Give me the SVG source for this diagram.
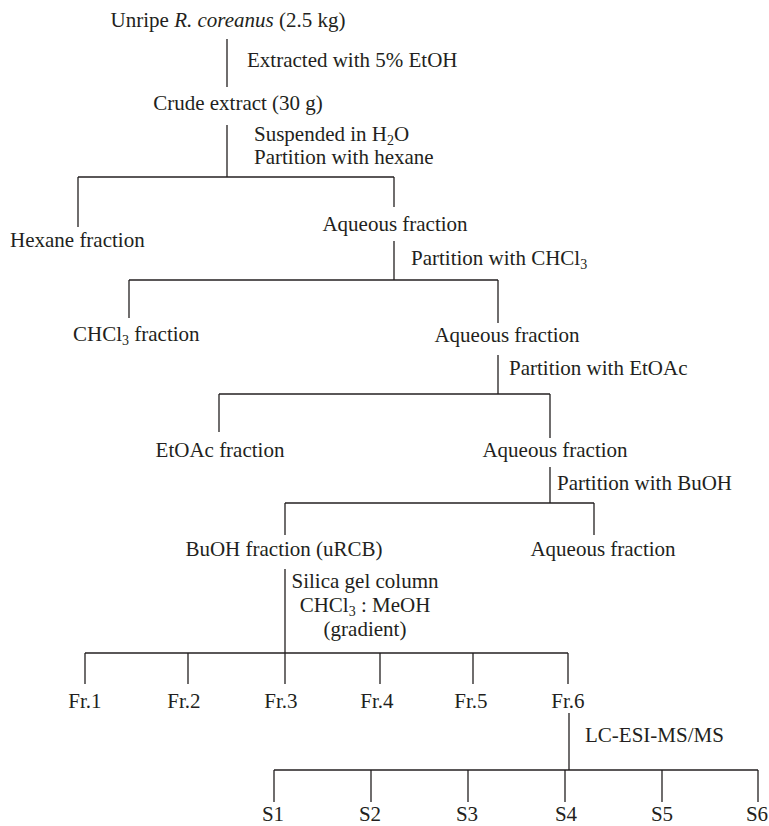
<svg xmlns="http://www.w3.org/2000/svg" width="769" height="826" viewBox="0 0 769 826">
<style>
text{font-family:"Liberation Serif","Times New Roman",serif;font-size:21px;fill:#231f20}
.m{text-anchor:middle}
.sub{font-size:14px}
.it{font-style:italic}
#connectors line{stroke:#231f20;stroke-width:1.3;fill:none}
</style>
<rect width="769" height="826" fill="#ffffff"/>
<g id="connectors">
<line x1="227" y1="39" x2="227" y2="87"/>
<line x1="227" y1="125" x2="227" y2="177"/>
<line x1="78" y1="177" x2="394" y2="177"/>
<line x1="78" y1="177" x2="78" y2="227"/>
<line x1="394" y1="177" x2="394" y2="207"/>
<line x1="394" y1="241" x2="394" y2="280"/>
<line x1="129" y1="280" x2="498" y2="280"/>
<line x1="129" y1="280" x2="129" y2="318"/>
<line x1="498" y1="280" x2="498" y2="323"/>
<line x1="498" y1="355" x2="498" y2="394"/>
<line x1="219" y1="394" x2="550" y2="394"/>
<line x1="219" y1="394" x2="219" y2="432"/>
<line x1="550" y1="394" x2="550" y2="438"/>
<line x1="550" y1="467" x2="550" y2="503"/>
<line x1="285" y1="503" x2="594" y2="503"/>
<line x1="285" y1="503" x2="285" y2="535"/>
<line x1="594" y1="503" x2="594" y2="535"/>
<line x1="285" y1="569" x2="285" y2="684"/>
<line x1="85" y1="653" x2="568" y2="653"/>
<line x1="85" y1="653" x2="85" y2="684"/>
<line x1="188" y1="653" x2="188" y2="684"/>
<line x1="380" y1="653" x2="380" y2="684"/>
<line x1="473" y1="653" x2="473" y2="684"/>
<line x1="568" y1="653" x2="568" y2="684"/>
<line x1="569" y1="713" x2="569" y2="770"/>
<line x1="274" y1="770" x2="758" y2="770"/>
<line x1="274" y1="770" x2="274" y2="802"/>
<line x1="371" y1="770" x2="371" y2="802"/>
<line x1="468" y1="770" x2="468" y2="802"/>
<line x1="565" y1="770" x2="565" y2="802"/>
<line x1="662" y1="770" x2="662" y2="802"/>
<line x1="758" y1="770" x2="758" y2="802"/>
</g>
<g id="labels">
<text x="247" y="67">Extracted with 5% EtOH</text>
<text x="254" y="141">Suspended in H<tspan class="sub" dy="4">2</tspan><tspan dy="-4">O</tspan></text>
<text x="254" y="164">Partition with hexane</text>
<text x="411" y="265">Partition with CHCl<tspan class="sub" dy="4">3</tspan></text>
<text x="509" y="375">Partition with EtOAc</text>
<text x="557" y="490">Partition with BuOH</text>
<text class="m" x="365" y="588">Silica gel column</text>
<text class="m" x="365" y="612">CHCl<tspan class="sub" dy="4">3</tspan><tspan dy="-4"> : MeOH</tspan></text>
<text class="m" x="365" y="636">(gradient)</text>
<text x="585" y="742">LC-ESI-MS/MS</text>
</g>
<g id="n-start"><text class="m" x="228" y="27">Unripe <tspan class="it">R. coreanus</tspan> (2.5 kg)</text></g>
<g id="n-crude"><text class="m" x="238" y="110">Crude extract (30 g)</text></g>
<g id="n-hexane"><text x="10" y="247">Hexane fraction</text></g>
<g id="n-aq1"><text class="m" x="395" y="231">Aqueous fraction</text></g>
<g id="n-chcl3"><text x="73" y="341">CHCl<tspan class="sub" dy="4">3</tspan><tspan dy="-4"> fraction</tspan></text></g>
<g id="n-aq2"><text class="m" x="507" y="342">Aqueous fraction</text></g>
<g id="n-etoac"><text class="m" x="220" y="457">EtOAc fraction</text></g>
<g id="n-aq3"><text class="m" x="555" y="457">Aqueous fraction</text></g>
<g id="n-buoh"><text class="m" x="284" y="556">BuOH fraction (uRCB)</text></g>
<g id="n-aq4"><text class="m" x="603" y="556">Aqueous fraction</text></g>
<g id="n-fr1"><text class="m" x="85" y="708">Fr.1</text></g>
<g id="n-fr2"><text class="m" x="184" y="708">Fr.2</text></g>
<g id="n-fr3"><text class="m" x="281" y="708">Fr.3</text></g>
<g id="n-fr4"><text class="m" x="377" y="708">Fr.4</text></g>
<g id="n-fr5"><text class="m" x="471" y="708">Fr.5</text></g>
<g id="n-fr6"><text class="m" x="568" y="708">Fr.6</text></g>
<g id="n-s1"><text class="m" x="273" y="821">S1</text></g>
<g id="n-s2"><text class="m" x="370" y="821">S2</text></g>
<g id="n-s3"><text class="m" x="467" y="821">S3</text></g>
<g id="n-s4"><text class="m" x="566" y="821">S4</text></g>
<g id="n-s5"><text class="m" x="662" y="821">S5</text></g>
<g id="n-s6"><text class="m" x="757" y="821">S6</text></g>
</svg>
